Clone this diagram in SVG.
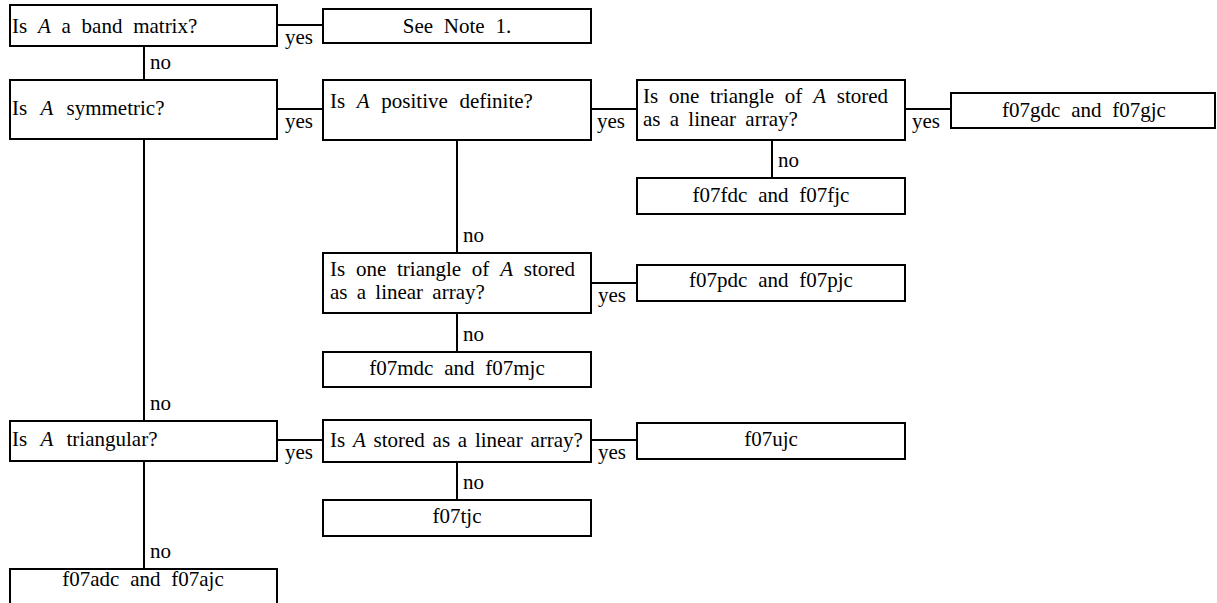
<svg xmlns="http://www.w3.org/2000/svg" width="1217" height="603" viewBox="0 0 1217 603">
<style>
.box{fill:#fff;stroke:#000;stroke-width:2}
.ln{fill:none;stroke:#000;stroke-width:2}
text{font-family:"Liberation Serif","Times New Roman",serif;font-size:21px;fill:#000;word-spacing:5.5px}
.r{text-anchor:middle}
.i{font-style:italic}
</style>
<rect width="1217" height="603" fill="#fff"/>
<g id="connectors">
<path class="ln" d="M277,25H323M144,46V80M277,109H323M591,109H637M905,109H951M772,140V178M457,140V253M591,283H637M457,313V352M144,139V421M277,440H323M591,440H637M457,462V500M144,461V569"/>
<text x="285" y="44">yes</text>
<text x="285" y="128">yes</text>
<text x="597" y="128">yes</text>
<text x="912" y="128">yes</text>
<text x="598" y="302">yes</text>
<text x="285" y="459">yes</text>
<text x="598" y="459">yes</text>
<text x="150" y="69">no</text>
<text x="150" y="410">no</text>
<text x="150" y="558">no</text>
<text x="463" y="242">no</text>
<text x="778" y="167">no</text>
<text x="463" y="341">no</text>
<text x="463" y="489">no</text>
</g>
<g id="q-band"><rect class="box" x="10" y="5" width="267" height="41"/><text x="12" y="33">Is <tspan class="i">A</tspan> a band matrix?</text></g>
<g id="r-note"><rect class="box" x="323" y="9" width="268" height="34"/><text class="r" x="457" y="33">See Note 1.</text></g>
<g id="q-sym"><rect class="box" x="10" y="80" width="267" height="59"/><text x="12" y="115" style="word-spacing:8px">Is <tspan class="i">A</tspan> symmetric?</text></g>
<g id="q-posdef"><rect class="box" x="323" y="80" width="268" height="60"/><text x="330" y="108" style="word-spacing:6.4px">Is <tspan class="i">A</tspan> positive definite?</text></g>
<g id="q-tri1"><rect class="box" x="637" y="80" width="268" height="60"/><text x="643" y="102.5">Is one triangle of <tspan class="i">A</tspan> stored</text><text x="643" y="125.5" style="word-spacing:4px">as a linear array?</text></g>
<g id="r-gdc"><rect class="box" x="951" y="93" width="264" height="35"/><text class="r" x="1084" y="117">f07gdc and f07gjc</text></g>
<g id="r-fdc"><rect class="box" x="637" y="178" width="268" height="36"/><text class="r" x="771" y="202">f07fdc and f07fjc</text></g>
<g id="q-tri2"><rect class="box" x="323" y="253" width="268" height="60"/><text x="330" y="275.5">Is one triangle of <tspan class="i">A</tspan> stored</text><text x="330" y="298.5" style="word-spacing:4px">as a linear array?</text></g>
<g id="r-pdc"><rect class="box" x="637" y="265" width="268" height="36"/><text class="r" x="771" y="287">f07pdc and f07pjc</text></g>
<g id="r-mdc"><rect class="box" x="323" y="352" width="268" height="35"/><text class="r" x="457" y="375">f07mdc and f07mjc</text></g>
<g id="q-triang"><rect class="box" x="10" y="421" width="267" height="40"/><text x="12" y="446" style="word-spacing:8px">Is <tspan class="i">A</tspan> triangular?</text></g>
<g id="q-stored"><rect class="box" x="323" y="420" width="268" height="42"/><text x="330" y="447" style="word-spacing:2.5px">Is <tspan class="i">A</tspan> stored as a linear array?</text></g>
<g id="r-ujc"><rect class="box" x="637" y="423" width="268" height="36"/><text class="r" x="771" y="446">f07ujc</text></g>
<g id="r-tjc"><rect class="box" x="323" y="500" width="268" height="36"/><text class="r" x="457" y="523">f07tjc</text></g>
<g id="r-adc"><rect class="box" x="10" y="569" width="267" height="45"/><text class="r" x="143" y="586">f07adc and f07ajc</text></g>
</svg>
